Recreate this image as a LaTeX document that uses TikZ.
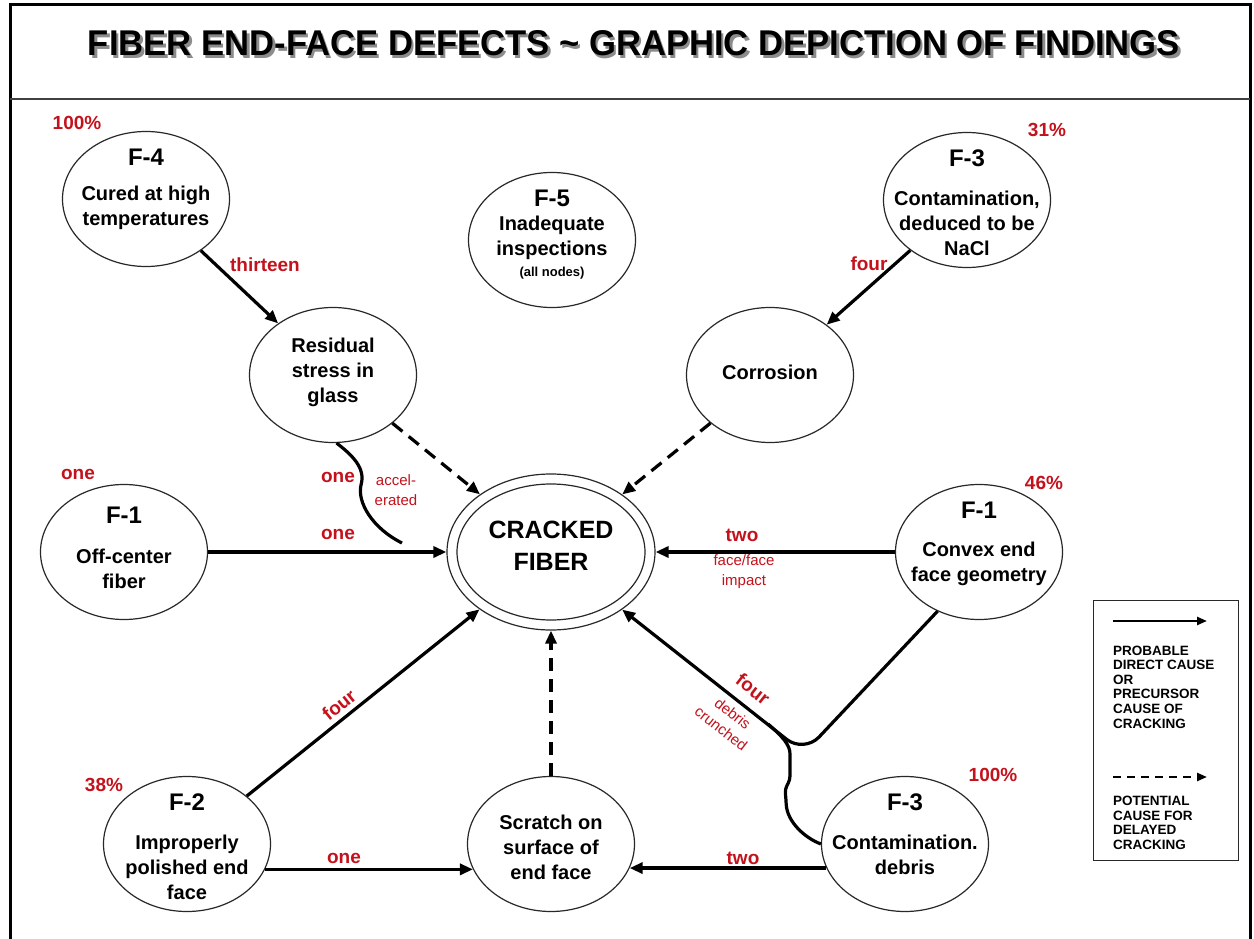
\documentclass[tikz,border=0pt]{standalone}
\usepackage{graphicx}
\usepackage{fontspec}
\setmainfont{Liberation Sans}
\usetikzlibrary{arrows.meta,shapes.geometric}
\definecolor{lblred}{RGB}{196,18,28}
\definecolor{edgecol}{RGB}{40,40,40}
\newcommand{\titletext}{\bfseries FIBER END-FACE DEFECTS \textasciitilde\ GRAPHIC DEPICTION OF FINDINGS}
\begin{document}
\begin{tikzpicture}[x=1pt,y=-1pt,
  bub/.style={ellipse, draw=edgecol, line width=1.2pt, fill=white, inner sep=0pt, minimum width=167pt, minimum height=135pt},
  hd/.style={font=\fontsize{24}{28}\selectfont\bfseries, inner sep=0pt},
  bd/.style={font=\fontsize{20}{25}\selectfont\bfseries, align=center, inner sep=0pt},
  rl/.style={text=lblred, font=\fontsize{19}{22}\selectfont\bfseries, inner sep=0pt},
  rs/.style={text=lblred, font=\fontsize{15}{20}\selectfont, align=center, inner sep=0pt},
  lg/.style={font=\fontsize{13.5}{14.6}\selectfont\bfseries, align=left, inner sep=0pt, anchor=west},
  arr/.style={line width=3.2pt, -{Triangle[length=13pt,width=11pt]}},
  darr/.style={arr, dash pattern=on 13pt off 8pt},
  conn/.style={line width=3.2pt},
]
\useasboundingbox (0,0) rectangle (1254,939);
\fill[white] (0,0) rectangle (1254,939);

% frame and title
\draw[line width=3pt] (10,939) -- (10,5) -- (1250,5) -- (1250,939);
\draw[line width=2pt, black!75] (10,99) -- (1250,99);
\node[inner sep=0pt] (title) at (634,44.5) {\rlap{\hspace{2.5pt}\raisebox{-2.5pt}{\color{black!45}\resizebox{1092pt}{25pt}{\titletext}}}\resizebox{1092pt}{25pt}{\titletext}};

% bubbles
\node[bub] (f4) at (146,199) {};
\node[bub] (f5) at (552,240) {};
\node[bub] (f3a) at (967,200) {};
\node[bub] (res) at (333,375) {};
\node[bub] (cor) at (770,375) {};
\node[bub] (f1) at (124,552) {};
\node[bub] (cvx) at (979,552) {};
\node[bub] (f2) at (187,844) {};
\node[bub] (scr) at (551,844) {};
\node[bub] (deb) at (905,844) {};
\node[ellipse, draw=edgecol, line width=1.2pt, fill=white, inner sep=0pt, minimum width=208pt, minimum height=156pt] (cf) at (551,552) {};
\node[ellipse, draw=edgecol, line width=1.2pt, inner sep=0pt, minimum width=188pt, minimum height=136pt] (cfi) at (551,552) {};

% bubble texts
\node[hd] (f4h) at (146,157) {F-4};
\node[bd] (f4b) at (146,208) {Cured at high\\temperatures};
\node[hd] (f5h) at (552,198) {F-5};
\node[bd] (f5b) at (552,238) {Inadequate\\inspections};
\node[font=\fontsize{13}{15}\selectfont\bfseries, inner sep=0pt] (f5s) at (552,273) {(all nodes)};
\node[hd] (f3ah) at (967,158) {F-3};
\node[bd] (f3ab) at (967,223.5) {Contamination,\\deduced to be\\NaCl};
\node[bd] (resb) at (333,372) {Residual\\stress in\\glass};
\node[bd] (corb) at (770,372) {Corrosion};
\node[font=\fontsize{25}{32}\selectfont\bfseries, align=center, inner sep=0pt] (cft) at (551,546) {CRACKED\\FIBER};
\node[hd] (f1h) at (124,515) {F-1};
\node[bd] (f1b) at (124,568.5) {Off-center\\fiber};
\node[hd] (cvxh) at (979,510) {F-1};
\node[bd] (cvxb) at (979,563.5) {Convex end\\face geometry};
\node[hd] (f2h) at (187,802) {F-2};
\node[bd] (f2b) at (187,867) {Improperly\\polished end\\face};
\node[bd] (scrb) at (551,847.5) {Scratch on\\surface of\\end face};
\node[hd] (debh) at (905,802) {F-3};
\node[bd] (debb) at (905,854.5) {Contamination.\\debris};

% percentages
\node[rl] (f4p) at (77,123) {100\%};
\node[rl] (f3ap) at (1047,130) {31\%};
\node[rl] (f1p) at (78,474) {one};
\node[rl] (cvxp) at (1044,483) {46\%};
\node[rl] (f2p) at (104,785) {38\%};
\node[rl] (debp) at (993,775) {100\%};

% connectors
\draw[arr] (f4) -- (res);
\draw[arr] (f3a) -- (cor);
\draw[darr] (res) -- (cf);
\draw[darr] (cor) -- (cf);
\draw[arr] (f1) -- (cf);
\draw[arr] (cvx) -- (cf);
\draw[arr] (f2) -- (cf);
\draw[darr] (scr) -- (cf);
\draw[arr] (f2.-18) -- (scr.198);
\draw[arr] (deb.197) -- (scr.-17);

\coordinate (jc) at (804,753);
\draw[arr, rounded corners=22pt] (cvx.235) -- (jc) -- (cf.-39);
\coordinate (jd) at (768,724);
\draw[conn, rounded corners=4pt] (deb.west) .. controls (805,838) and (787,822) .. (786,800) -- (785,789) -- (790,780) -- (790,758) .. controls (790,745) and (783,737) .. (jd);

\coordinate (ae) at (402,543);
\draw[conn] (res.-87) .. controls (352,455) and (366,468) .. (361,485) .. controls (357,502) and (372,528) .. (ae);

% connector labels
\node[rl] (l13) at (265,265) {thirteen};
\node[rl] (l4a) at (869,264) {four};
\node[rl] (l1a) at (338,477) {one};
\node[rs] (lacc) at (396,490) {accel-\\erated};
\node[rl] (l1b) at (338,534) {one};
\node[rl] (l2a) at (742,535) {two};
\node[rs] (lff) at (744,572) {face/face\\impact};
\node[rl, rotate=39] (l4b) at (339,705) {four};
\node[rl, rotate=-38] (l4c) at (753,689) {four};
\node[rs, rotate=-38, font=\fontsize{15}{19}\selectfont] (ldeb) at (727,721) {debris\\crunched};
\node[rl] (l1c) at (344,858) {one};
\node[rl] (l2b) at (743,858) {two};

% legend
\node[draw=edgecol, line width=1.2pt, minimum width=145pt, minimum height=260pt, anchor=north west, inner sep=0pt] (leg) at (1093,600) {};
\coordinate (ls1) at (1113,621);
\coordinate (le1) at (1207,621);
\draw[line width=2.4pt, -{Triangle[length=10pt,width=8pt]}] (ls1) -- (le1);
\node[lg] (lt1) at (1113,687) {PROBABLE\\DIRECT CAUSE\\OR\\PRECURSOR\\CAUSE OF\\CRACKING};
\coordinate (ls2) at (1113,777);
\coordinate (le2) at (1207,777);
\draw[line width=2.4pt, dash pattern=on 8pt off 6pt, -{Triangle[length=10pt,width=8pt]}] (ls2) -- (le2);
\node[lg] (lt2) at (1113,823) {POTENTIAL\\CAUSE FOR\\DELAYED\\CRACKING};
\end{tikzpicture}
\end{document}
